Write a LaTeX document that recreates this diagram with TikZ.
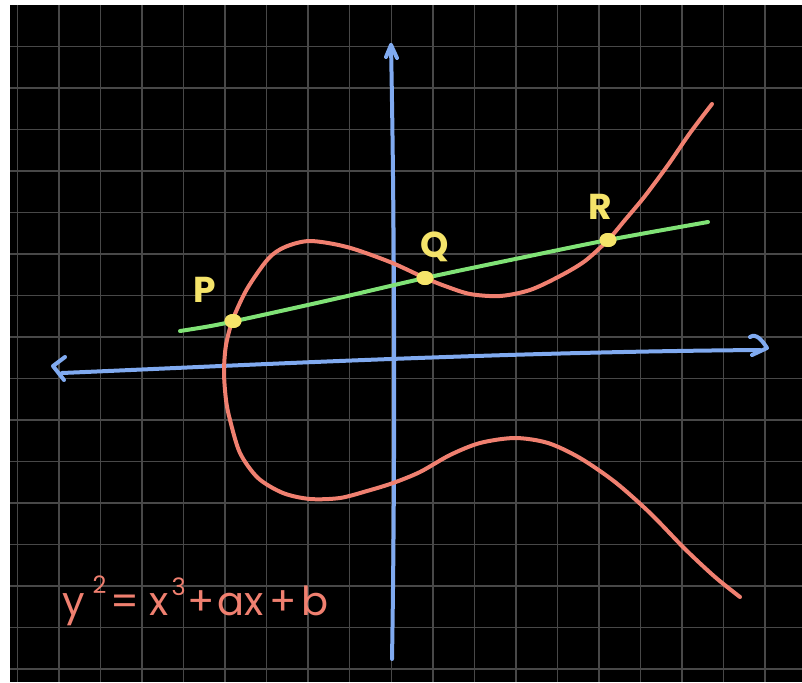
\documentclass[tikz,border=0pt]{standalone}
\usepackage{fontspec}
\setmainfont{Poppins}
\definecolor{gridgray}{RGB}{72,72,72}
\definecolor{curvered}{RGB}{240,128,112}
\definecolor{axisblue}{RGB}{128,170,240}
\definecolor{linegreen}{RGB}{128,226,118}
\definecolor{dotyellow}{RGB}{245,228,106}
\tikzset{
  gridline/.style={draw=gridgray,line width=1.5pt},
  axisline/.style={draw=axisblue,line width=4pt,line cap=round,line join=round},
  curveline/.style={draw=curvered,line width=4pt,line cap=round},
  chordline/.style={draw=linegreen,line width=4pt,line cap=round},
  ptdot/.style={fill=dotyellow,ellipse,minimum width=17pt,minimum height=14pt,inner sep=0pt},
  ptlabel/.style={text=dotyellow,font=\fontsize{36}{36}\selectfont\bfseries,inner sep=0pt},
}
\usetikzlibrary{shapes.geometric}
\begin{document}
\begin{tikzpicture}[x=1pt,y=-1pt]
\useasboundingbox (0,0) rectangle (802,682);
\fill[white] (0,0) rectangle (802,682);
\fill[black] (10,5) rectangle (802,682);
\foreach \i in {0,...,18} \draw[gridline] ({17.3+41.55*\i},5) -- ({17.3+41.55*\i},682);
\foreach \j in {0,...,15} \draw[gridline] (10,{46.7+41.5*\j}) -- (802,{46.7+41.5*\j});
% axes
\coordinate (ytop) at (391,45);
\coordinate (ybot) at (392,659);
\coordinate (xleft) at (53,366);
\coordinate (xright) at (767,348);
\draw[axisline] (ybot) .. controls (395,480) and (395,250) .. (ytop);
\draw[axisline] (386,57) -- (ytop) -- (397,58);
\draw[axisline] (62,373) .. controls (250,365) and (500,352) .. (760,350);
\draw[axisline] (65,357) -- (xleft) -- (64,380);
\draw[axisline] (750,337) .. controls (756,333) and (762,340) .. (xright) -- (752,355);
% curve
\draw[curveline] plot[smooth] coordinates {
(712,104) (690,133) (668,165) (645,196) (625,220) (608,240) (585,261) (560,276) (530,290)
(500,296) (470,294) (445,286) (425,278) (390,262) (347,247) (310,241) (285,247)
(268,259) (247,289) (233,319) (226,345) (224,372) (226,400) (230,420) (240,453)
(258,478) (283,493) (310,499) (340,498) (367,491) (393,483) (420,472) (450,455)
(480,443) (515,438) (548,443) (580,458) (615,482) (650,513) (685,549) (715,577) (740,597)};
% chord
\node[ptdot] (P) at (233,321) {};
\node[ptdot] (Q) at (425,278) {};
\node[ptdot] (R) at (608,240) {};
\draw[chordline] plot[smooth] coordinates {(180,331) (205,327) (233,321.5) (330,300) (425,278) (520,258) (608,240) (708,222)};
\node[ptdot] at (P) {};
\node[ptdot] at (Q) {};
\node[ptdot] at (R) {};
\node[ptlabel] (Plab) at (205,290) {P};
\node[ptlabel] (Qlab) at (435,247) {Q};
\node[ptlabel] (Rlab) at (600,207) {R};
% equation
\node[text=curvered,font=\fontsize{40}{40}\selectfont,inner sep=0pt,anchor=base west] (eq) at (62,615)
 {y\hspace{8pt}\raisebox{22pt}{\fontsize{24}{24}\selectfont 2}\hspace{4pt}=\hspace{10pt}x\hspace{3pt}\raisebox{20pt}{\fontsize{24}{24}\selectfont 3}\hspace{2pt}+\hspace{2pt}ax\hspace{6pt}+\hspace{5pt}b};
\end{tikzpicture}
\end{document}
